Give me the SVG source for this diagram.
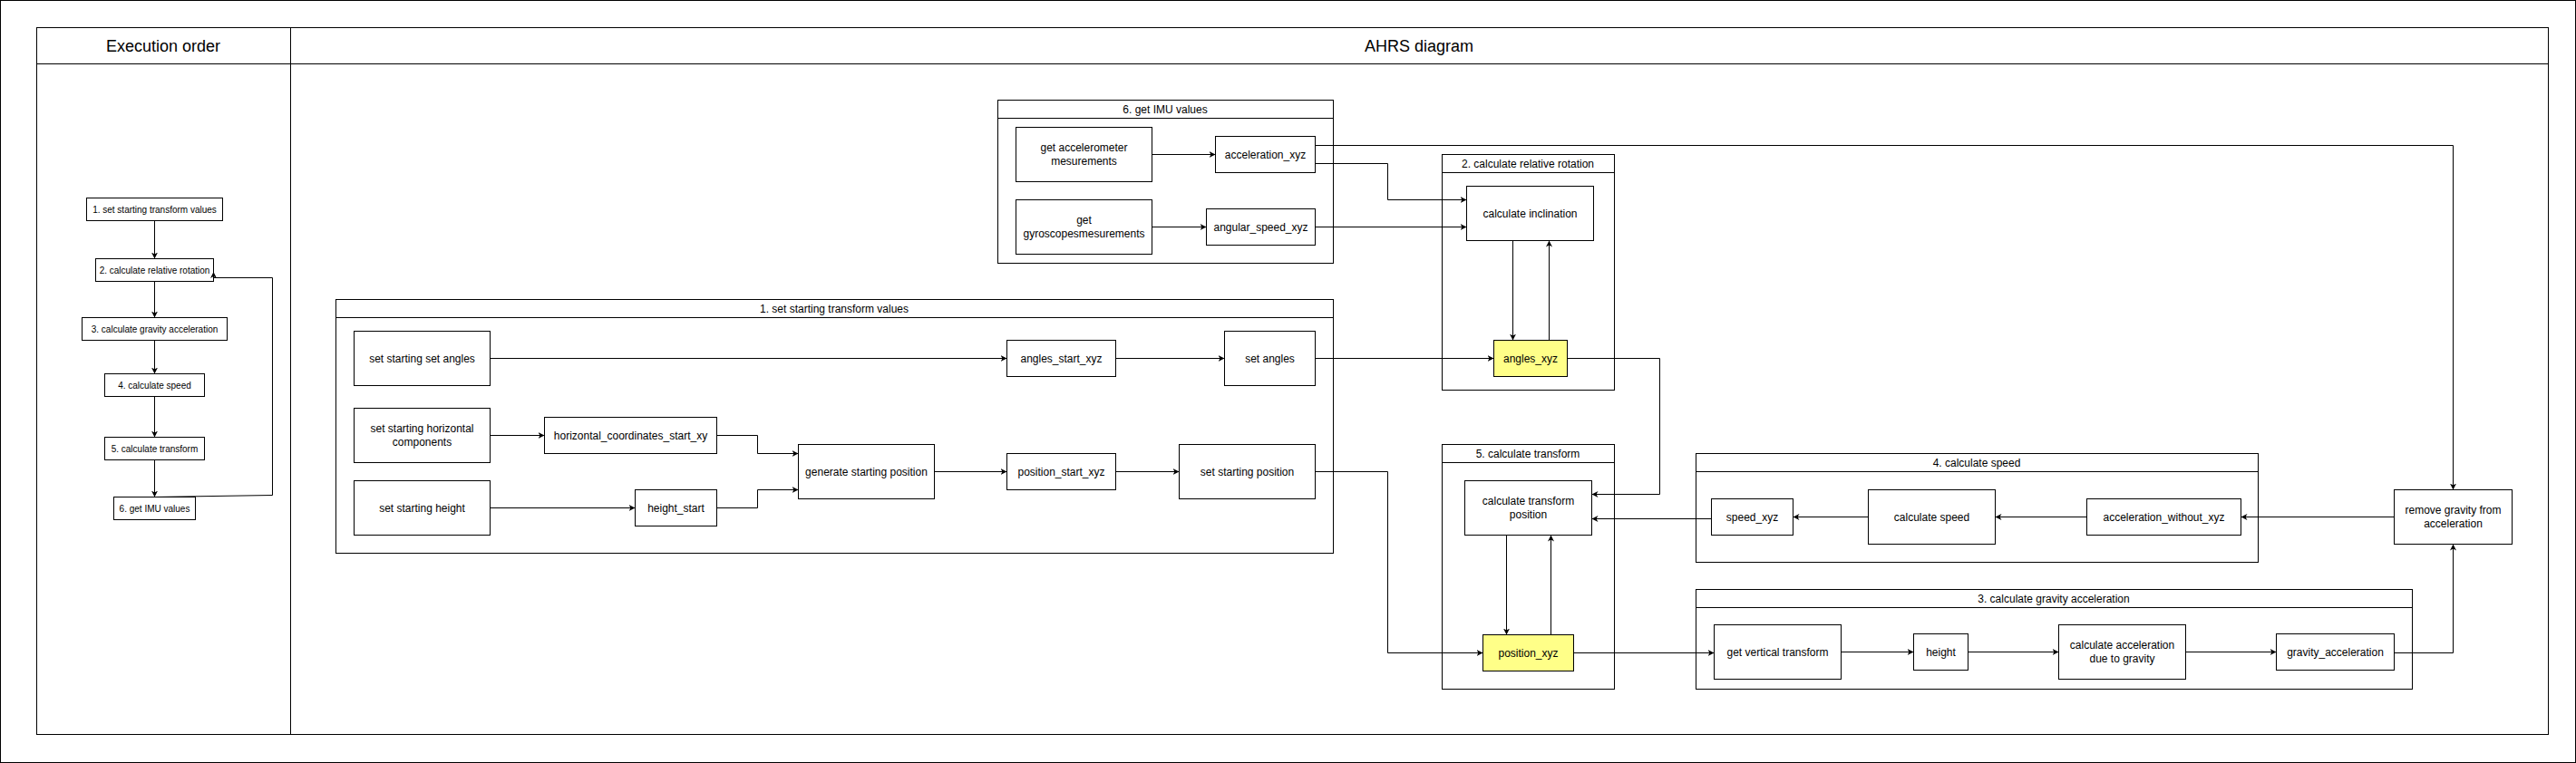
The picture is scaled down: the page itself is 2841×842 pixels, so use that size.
<svg xmlns="http://www.w3.org/2000/svg" width="2841" height="842" viewBox="0 0 2841 842">
<defs>
<marker id="arr" viewBox="0 0 7 7" refX="7" refY="3.5" markerWidth="7" markerHeight="7" markerUnits="userSpaceOnUse" orient="auto">
<path d="M0,0 L7,3.5 L0,7 L2,3.5 Z" fill="#000"/>
</marker>
<style>
rect{fill:#fff;stroke:#000;stroke-width:1}
rect.y{fill:#ffff88}
line.h{stroke:#000;stroke-width:1}
text{font-family:"Liberation Sans",Arial,Helvetica,sans-serif;fill:#000;text-anchor:middle}
.t18{font-size:18px}
.t12{font-size:12px}
.t10{font-size:10px}
#edges path{fill:none;stroke:#000;stroke-width:1;marker-end:url(#arr)}
#edges path.n{marker-end:none}
</style>
</defs>
<rect x="0.5" y="0.5" width="2840" height="841" fill="#fff" stroke="#000"/>
<g id="pool">
<rect x="40.5" y="30.5" width="2770" height="780"/>
<line class="h" x1="40.5" y1="70.5" x2="2810.5" y2="70.5"/>
<line class="h" x1="320.5" y1="30.5" x2="320.5" y2="810.5"/>
<text class="t18" x="180" y="56.5">Execution order</text>
<text class="t18" x="1565" y="56.5">AHRS diagram</text>
</g>
<g id="c1"><rect x="370.5" y="330.5" width="1100" height="280"/><line class="h" x1="370.5" y1="350.5" x2="1470.5" y2="350.5"/><text class="t12" x="920" y="344.5">1. set starting transform values</text></g>
<g id="c6"><rect x="1100.5" y="110.5" width="370" height="180"/><line class="h" x1="1100.5" y1="130.5" x2="1470.5" y2="130.5"/><text class="t12" x="1285" y="124.5">6. get IMU values</text></g>
<g id="c2"><rect x="1590.5" y="170.5" width="190" height="260"/><line class="h" x1="1590.5" y1="190.5" x2="1780.5" y2="190.5"/><text class="t12" x="1685" y="184.5">2. calculate relative rotation</text></g>
<g id="c5"><rect x="1590.5" y="490.5" width="190" height="270"/><line class="h" x1="1590.5" y1="510.5" x2="1780.5" y2="510.5"/><text class="t12" x="1685" y="504.5">5. calculate transform</text></g>
<g id="c4"><rect x="1870.5" y="500.5" width="620" height="120"/><line class="h" x1="1870.5" y1="520.5" x2="2490.5" y2="520.5"/><text class="t12" x="2180" y="514.5">4. calculate speed</text></g>
<g id="c3"><rect x="1870.5" y="650.5" width="790" height="110"/><line class="h" x1="1870.5" y1="670.5" x2="2660.5" y2="670.5"/><text class="t12" x="2265" y="664.5">3. calculate gravity acceleration</text></g>

<g id="l1"><rect x="95.5" y="218.5" width="150" height="25"/><text class="t10" x="170.5" y="234.5">1. set starting transform values</text></g>
<g id="l2"><rect x="105.5" y="285.5" width="130" height="25"/><text class="t10" x="170.5" y="301.5">2. calculate relative rotation</text></g>
<g id="l3"><rect x="90.5" y="350.5" width="160" height="25"/><text class="t10" x="170.5" y="366.5">3. calculate gravity acceleration</text></g>
<g id="l4"><rect x="115.5" y="412.5" width="110" height="25"/><text class="t10" x="170.5" y="428.5">4. calculate speed</text></g>
<g id="l5"><rect x="115.5" y="482.5" width="110" height="25"/><text class="t10" x="170.5" y="498.5">5. calculate transform</text></g>
<g id="l6"><rect x="125.5" y="548.5" width="90" height="25"/><text class="t10" x="170.5" y="564.5">6. get IMU values</text></g>

<g id="n_ssa"><rect x="390.5" y="365.5" width="150" height="60"/><text class="t12" x="465.5" y="399.5">set starting set angles</text></g>
<g id="n_ssh"><rect x="390.5" y="450.5" width="150" height="60"/><text class="t12" x="465.5" y="477">set starting horizontal</text><text class="t12" x="465.5" y="492">components</text></g>
<g id="n_sshe"><rect x="390.5" y="530.5" width="150" height="60"/><text class="t12" x="465.5" y="564.5">set starting height</text></g>
<g id="n_hc"><rect x="600.5" y="460.5" width="190" height="40"/><text class="t12" x="695.5" y="484.5">horizontal_coordinates_start_xy</text></g>
<g id="n_hs"><rect x="700.5" y="540.5" width="90" height="40"/><text class="t12" x="745.5" y="564.5">height_start</text></g>
<g id="n_gsp"><rect x="880.5" y="490.5" width="150" height="60"/><text class="t12" x="955.5" y="524.5">generate starting position</text></g>
<g id="n_psx"><rect x="1110.5" y="500.5" width="120" height="40"/><text class="t12" x="1170.5" y="524.5">position_start_xyz</text></g>
<g id="n_ssp"><rect x="1300.5" y="490.5" width="150" height="60"/><text class="t12" x="1375.5" y="524.5">set starting position</text></g>
<g id="n_asx"><rect x="1110.5" y="375.5" width="120" height="40"/><text class="t12" x="1170.5" y="399.5">angles_start_xyz</text></g>
<g id="n_sa"><rect x="1350.5" y="365.5" width="100" height="60"/><text class="t12" x="1400.5" y="399.5">set angles</text></g>
<g id="n_gam"><rect x="1120.5" y="140.5" width="150" height="60"/><text class="t12" x="1195.5" y="167">get accelerometer</text><text class="t12" x="1195.5" y="182">mesurements</text></g>
<g id="n_ax"><rect x="1340.5" y="150.5" width="110" height="40"/><text class="t12" x="1395.5" y="174.5">acceleration_xyz</text></g>
<g id="n_gg"><rect x="1120.5" y="220.5" width="150" height="60"/><text class="t12" x="1195.5" y="247">get</text><text class="t12" x="1195.5" y="262">gyroscopesmesurements</text></g>
<g id="n_asp"><rect x="1330.5" y="230.5" width="120" height="40"/><text class="t12" x="1390.5" y="254.5">angular_speed_xyz</text></g>
<g id="n_ci"><rect x="1617.5" y="205.5" width="140" height="60"/><text class="t12" x="1687.5" y="239.5">calculate inclination</text></g>
<g id="n_axyz"><rect class="y" x="1647.5" y="375.5" width="81" height="40"/><text class="t12" x="1688" y="399.5">angles_xyz</text></g>
<g id="n_ctp"><rect x="1615.5" y="530.5" width="140" height="60"/><text class="t12" x="1685.5" y="557">calculate transform</text><text class="t12" x="1685.5" y="572">position</text></g>
<g id="n_pxyz"><rect class="y" x="1635.5" y="700.5" width="100" height="40"/><text class="t12" x="1685.5" y="724.5">position_xyz</text></g>
<g id="n_sx"><rect x="1887.5" y="550.5" width="90" height="40"/><text class="t12" x="1932.5" y="574.5">speed_xyz</text></g>
<g id="n_cs"><rect x="2060.5" y="540.5" width="140" height="60"/><text class="t12" x="2130.5" y="574.5">calculate speed</text></g>
<g id="n_awx"><rect x="2301.5" y="550.5" width="170" height="40"/><text class="t12" x="2386.5" y="574.5">acceleration_without_xyz</text></g>
<g id="n_rg"><rect x="2640.5" y="540.5" width="130" height="60"/><text class="t12" x="2705.5" y="567">remove gravity from</text><text class="t12" x="2705.5" y="582">acceleration</text></g>
<g id="n_gvt"><rect x="1890.5" y="689.5" width="140" height="60"/><text class="t12" x="1960.5" y="723.5">get vertical transform</text></g>
<g id="n_h"><rect x="2110.5" y="699.5" width="60" height="40"/><text class="t12" x="2140.5" y="723.5">height</text></g>
<g id="n_cad"><rect x="2270.5" y="689.5" width="140" height="60"/><text class="t12" x="2340.5" y="716">calculate acceleration</text><text class="t12" x="2340.5" y="731">due to gravity</text></g>
<g id="n_ga"><rect x="2510.5" y="699.5" width="130" height="40"/><text class="t12" x="2575.5" y="723.5">gravity_acceleration</text></g>

<g id="edges">
<path d="M170.5,243.5 V285.5"/>
<path d="M170.5,310.5 V350.5"/>
<path d="M170.5,375.5 V412.5"/>
<path d="M170.5,437.5 V482.5"/>
<path d="M170.5,507.5 V548.5"/>
<path d="M170.5,548.5 L300.5,546.5 V306.5 H235.5 V300"/>
<path d="M540.5,395.5 H1110.5"/>
<path d="M1230.5,395.5 H1350.5"/>
<path d="M540.5,480.5 H600.5"/>
<path d="M540.5,560.5 H700.5"/>
<path d="M790.5,480.5 H835.5 V500.5 H880.5"/>
<path d="M790.5,560.5 H835.5 V540.5 H880.5"/>
<path d="M1030.5,520.5 H1110.5"/>
<path d="M1230.5,520.5 H1300.5"/>
<path d="M1270.5,170.5 H1340.5"/>
<path d="M1270.5,250.5 H1330.5"/>
<path d="M1450.5,160.5 H2705.5 V540.5"/>
<path d="M1450.5,180.5 H1530.5 V220.5 H1617.5"/>
<path d="M1450.5,250.5 H1617.5"/>
<path d="M1450.5,395.5 H1647.5"/>
<path d="M1668.5,265.5 V375.5"/>
<path d="M1708.5,375.5 V265.5"/>
<path d="M1728.5,395.5 H1830.5 V545.5 H1755.5"/>
<path d="M1450.5,520.5 H1530.5 V720.5 H1635.5"/>
<path d="M1661.5,590.5 V700.5"/>
<path d="M1710.5,700.5 V590.5"/>
<path d="M1887.5,572.5 H1755.5"/>
<path d="M1735.5,720.5 H1890.5"/>
<path d="M2060.5,570.5 H1977.5"/>
<path d="M2301.5,570.5 H2200.5"/>
<path d="M2640.5,570.5 H2471.5"/>
<path d="M2030.5,719.5 H2110.5"/>
<path d="M2170.5,719.5 H2270.5"/>
<path d="M2410.5,719.5 H2510.5"/>
<path d="M2640.5,720.5 H2705.5 V600.5"/>
</g>
</svg>
